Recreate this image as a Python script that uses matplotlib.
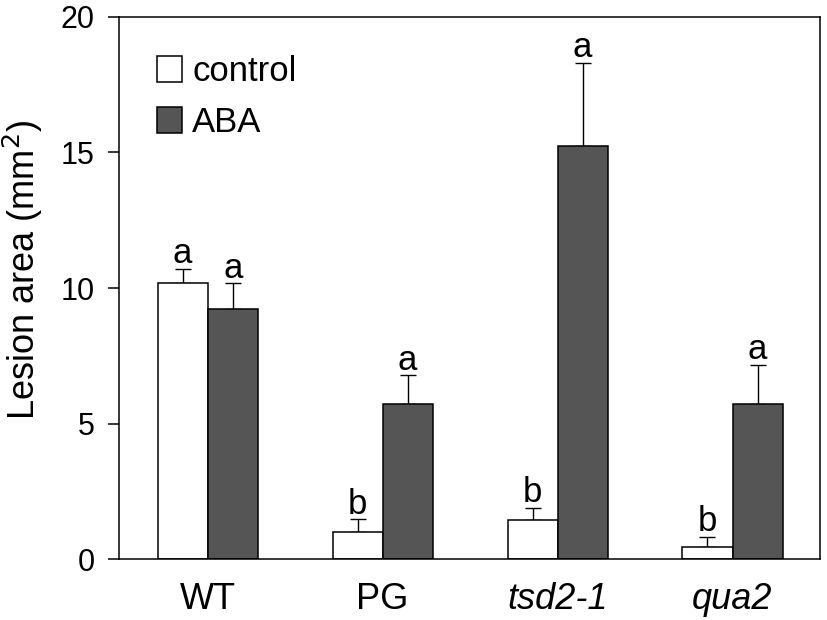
import numpy as np
import matplotlib.pyplot as plt

plt.rcParams['font.family'] = ['Liberation Sans', 'DejaVu Sans']

# data
genotypes   = ['WT', 'PG', 'tsd2-1', 'qua2']
control     = [10.20, 1.02, 1.46, 0.47]
control_err = [0.51, 0.47, 0.44, 0.37]
aba         = [9.24, 5.73, 15.24, 5.73]
aba_err     = [0.94, 1.06, 3.07, 1.44]
control_sig = ['a', 'b', 'b', 'b']
aba_sig     = ['a', 'a', 'a', 'a']

width = 0.286
x = np.arange(len(genotypes))

fig = plt.figure(figsize=(8.27, 6.2), dpi=100)
ax = fig.add_axes([0.1439, 0.0976, 0.8476, 0.8755])

ax.bar(x - width/2, control, width, color='white', edgecolor='black', linewidth=1.1,
       label='control', zorder=2)
ax.bar(x + width/2, aba, width, color='#555555', edgecolor='black', linewidth=1.1,
       label='ABA', zorder=2)

# one-sided error bars
ax.errorbar(x - width/2, control, yerr=[np.zeros(4), control_err], fmt='none',
            ecolor='black', elinewidth=1.0, capsize=6, capthick=1.0, zorder=1)
ax.errorbar(x + width/2, aba, yerr=[np.zeros(4), aba_err], fmt='none',
            ecolor='black', elinewidth=1.0, capsize=6, capthick=1.0, zorder=1)

# significance letters
for i in range(len(x)):
    ax.text(x[i] - width/2, control[i] + control_err[i] + 0.2, control_sig[i],
            ha='center', va='baseline', fontsize=25)
    ax.text(x[i] + width/2, aba[i] + aba_err[i] + 0.2, aba_sig[i],
            ha='center', va='baseline', fontsize=25)

ax.set_xlim(-0.507, 3.50)
ax.set_ylim(0, 20)
ax.set_yticks([0, 5, 10, 15, 20])
ax.tick_params(axis='y', direction='out', length=8, width=1.1, pad=9.5, labelsize=22)
ax.set_xticks(x)
ax.set_xticklabels(genotypes, fontsize=26)
for lbl in ax.get_xticklabels()[2:]:
    lbl.set_style('italic')
ax.tick_params(axis='x', length=0, pad=16)
ax.set_ylabel('Lesion area (mm$^2$)', fontsize=26)
ax.yaxis.set_label_coords(-0.105, 0.533)
for s in ax.spines.values():
    s.set_linewidth(1.1)

ax.legend(loc='upper left', bbox_to_anchor=(0.035, 0.955), frameon=False, fontsize=25,
          handlelength=0.7, handleheight=0.75, handletextpad=0.3, labelspacing=0.52,
          borderaxespad=0)

fig.savefig('out.png', dpi=100)
